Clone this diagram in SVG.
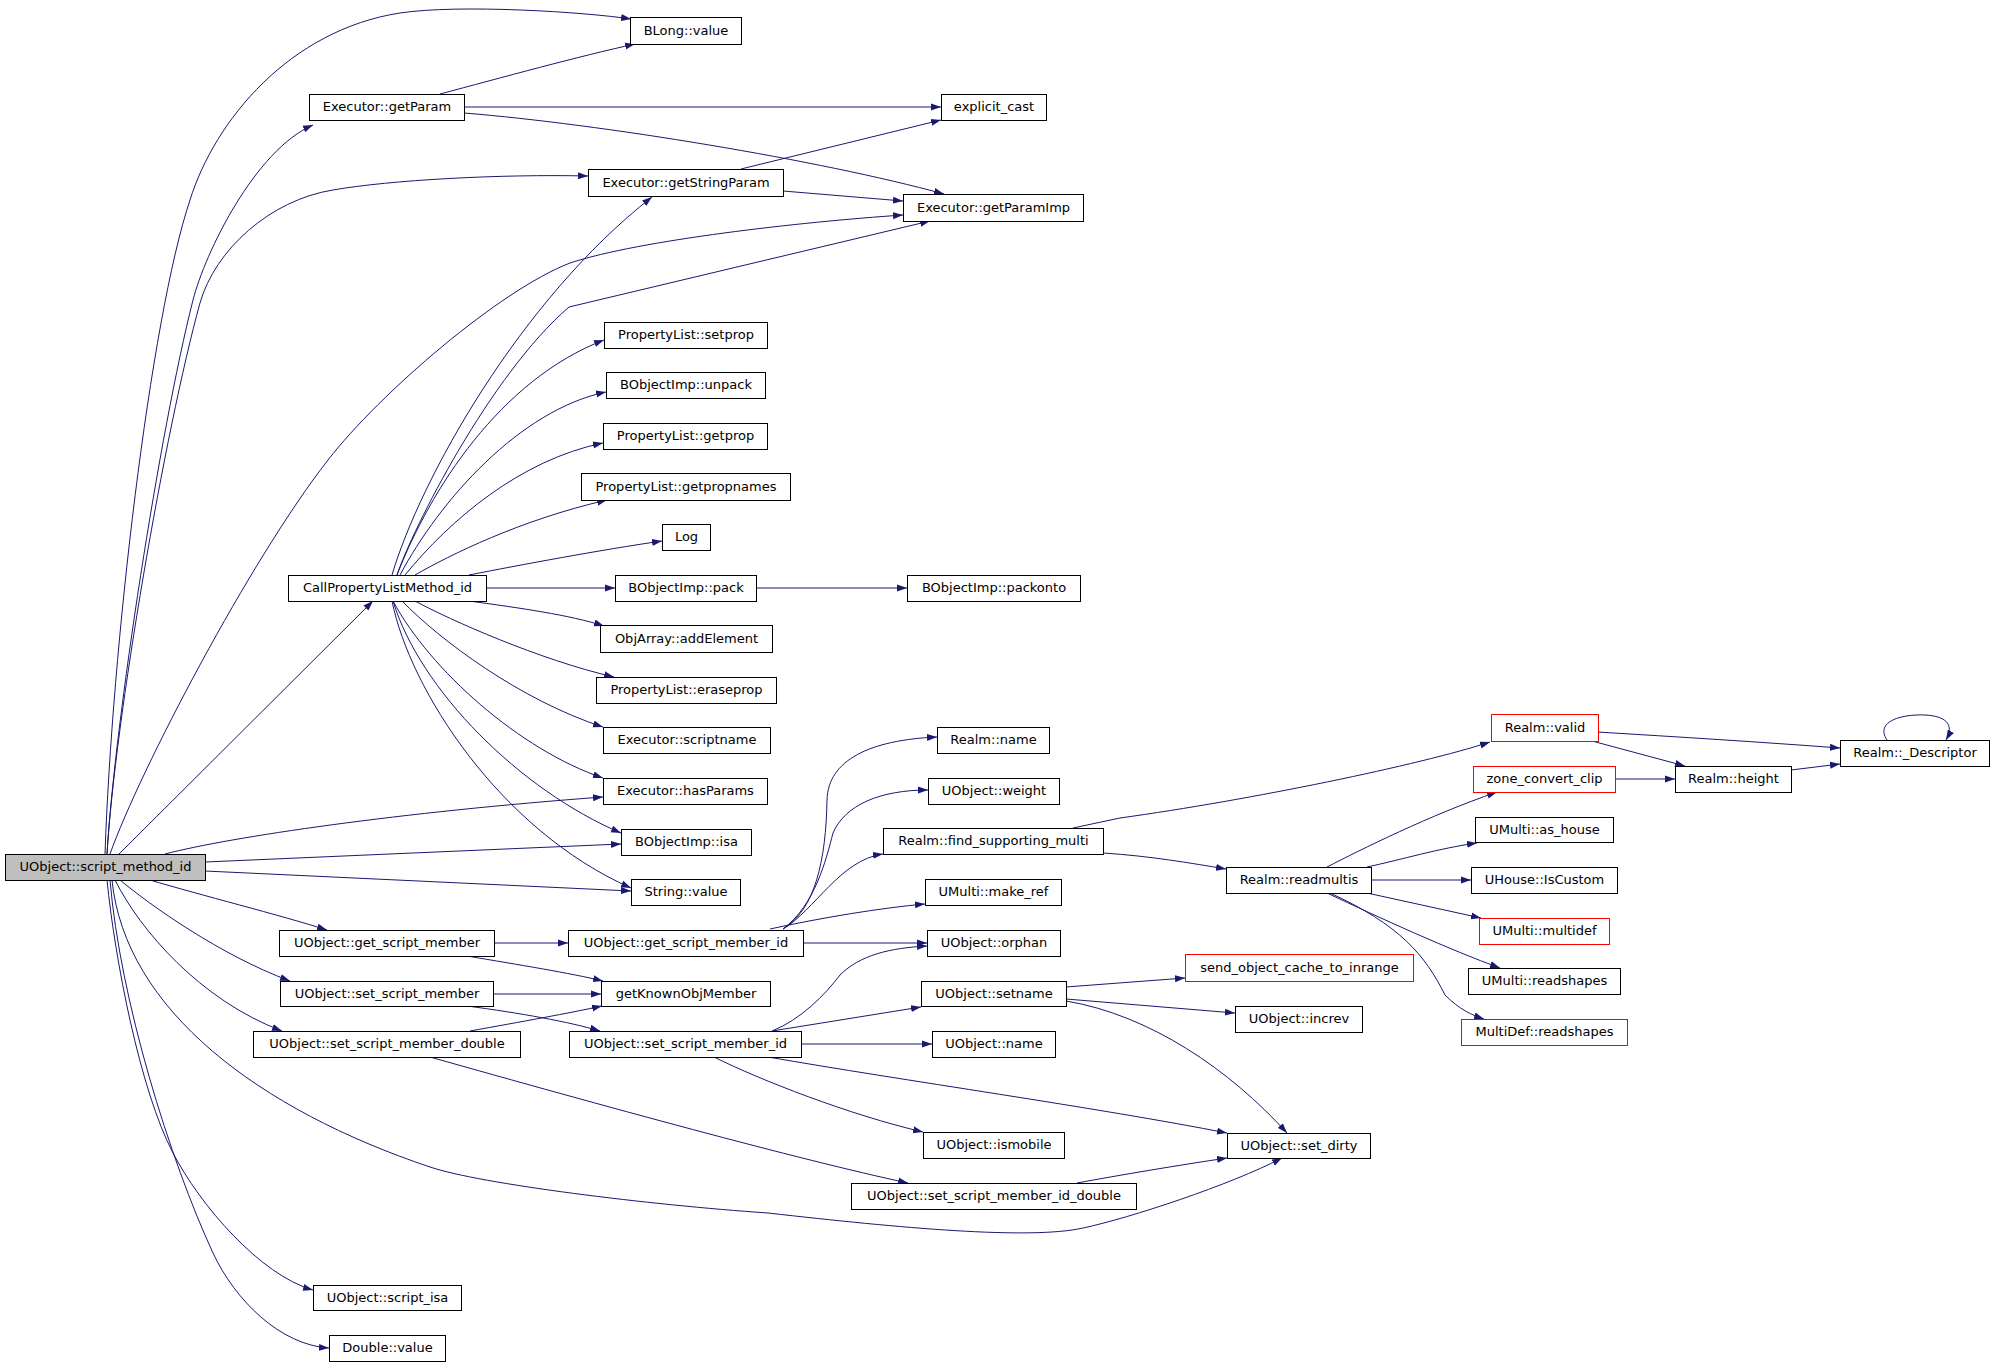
<svg xmlns="http://www.w3.org/2000/svg" width="1995" height="1366" viewBox="0 0 1995 1366">
<style>
.node rect{fill:#fff;stroke:#000;stroke-width:1}
.node.red rect{stroke:#ff0000}
.node.root rect{fill:#bfbfbf}
.node text{font-family:"DejaVu Sans","Liberation Sans",sans-serif;font-size:13px;text-anchor:middle;fill:#000}
.edges path{fill:none;stroke:#191970;stroke-width:1;marker-end:url(#arr)}
</style>
<defs>
<marker id="arr" markerWidth="10" markerHeight="8" refX="10" refY="4" orient="auto" markerUnits="userSpaceOnUse">
<path d="M0,0.5 L10,4 L0,7.5 z" fill="#191970"/>
</marker>
</defs>
<rect width="1995" height="1366" fill="#fff"/>
<g class="edges">
<path id="e_sm_blong" d="M105,854 C112,650 150,320 190,200 C215,120 290,30 400,13 C460,4 585,12 631,19"/>
<path id="e_sm_getparam" d="M107,854 C115,720 160,430 193,300 C205,253 255,150 313,125"/>
<path id="e_sm_getstringparam" d="M107,854 C115,720 165,430 200,303 C215,250 270,200 333,190 C390,180 500,174 588,176"/>
<path id="e_sm_getparamimp" d="M110,854 C140,770 250,560 328,460 C380,393 500,290 570,263 C640,240 800,222 903,215"/>
<path id="e_sm_cpl" d="M119,854 L373,601"/>
<path id="e_sm_hasparams" d="M165,854 C230,837 400,812 603,797"/>
<path id="e_sm_isa" d="M205,862 L621,844"/>
<path id="e_sm_stringvalue" d="M205,871 L631,891"/>
<path id="e_sm_gsm" d="M150,880 C200,895 280,915 327,930"/>
<path id="e_sm_ssm" d="M120,880 C150,905 220,955 290,981"/>
<path id="e_sm_ssmd" d="M115,880 C140,930 200,1000 282,1031"/>
<path id="e_sm_setdirty" d="M112,880 C125,1010 260,1110 430,1167 C480,1184 650,1205 768,1213 C900,1228 1030,1240 1083,1228 C1130,1218 1230,1185 1282,1158"/>
<path id="e_sm_scriptisa" d="M107,880 C115,960 140,1090 173,1153 C200,1205 260,1275 313,1290"/>
<path id="e_sm_double" d="M110,880 C120,1000 170,1160 213,1253 C235,1300 280,1345 329,1348"/>
<path id="e_cpl_getstringparam" d="M392,575 C420,480 520,300 652,197"/>
<path id="e_cpl_getparamimp" d="M397,575 C412,530 490,375 569,307 L930,221"/>
<path id="e_cpl_setprop" d="M397,575 C430,490 500,380 604,340"/>
<path id="e_cpl_unpack" d="M400,575 C440,500 520,410 606,392"/>
<path id="e_cpl_getprop" d="M405,575 C450,520 520,460 603,443"/>
<path id="e_cpl_getpropnames" d="M415,575 C450,555 520,520 607,500"/>
<path id="e_cpl_log" d="M469,575 C520,565 600,550 662,541"/>
<path id="e_cpl_pack" d="M486,588 L615,588"/>
<path id="e_cpl_addelement" d="M469,601 C520,608 570,615 604,626"/>
<path id="e_cpl_eraseprop" d="M415,601 C450,620 540,660 614,677"/>
<path id="e_cpl_scriptname" d="M402,601 C440,640 520,700 603,727"/>
<path id="e_cpl_hasparams" d="M393,601 C430,670 520,750 603,778"/>
<path id="e_cpl_isa" d="M393,601 C420,690 520,790 621,833"/>
<path id="e_cpl_stringvalue" d="M392,601 C410,690 500,830 631,888"/>
<path id="e_getparam_blong" d="M440,94 C500,78 580,56 635,44"/>
<path id="e_getparam_explicit" d="M464,107 L941,107"/>
<path id="e_getparam_getparamimp" d="M464,113 C600,124 820,160 944,194"/>
<path id="e_getstringparam_explicit" d="M741,169 L941,120"/>
<path id="e_getstringparam_getparamimp" d="M783,191 L903,201"/>
<path id="e_pack_packonto" d="M756,588 L907,588"/>
<path id="e_gsm_gsmid" d="M494,943 L568,943"/>
<path id="e_gsm_known" d="M467,956 C520,965 570,973 603,981"/>
<path id="e_ssm_known" d="M493,994 L601,994"/>
<path id="e_ssm_ssmid" d="M467,1006 C520,1013 570,1022 600,1031"/>
<path id="e_ssmd_known" d="M470,1031 C520,1022 570,1013 602,1006"/>
<path id="e_ssmd_ssmidd" d="M430,1057 C600,1105 800,1160 908,1183"/>
<path id="e_gsmid_realmname" d="M783,929 C815,910 826,860 827,800 C828,760 870,740 937,737"/>
<path id="e_gsmid_weight" d="M783,929 C815,905 826,860 833,833 C845,805 880,790 928,790"/>
<path id="e_gsmid_fsm" d="M783,929 C815,910 840,860 883,854"/>
<path id="e_gsmid_makeref" d="M770,929 C820,918 880,908 925,904"/>
<path id="e_gsmid_orphan" d="M803,943 L927,943"/>
<path id="e_fsm_valid" d="M1073,828 L1120,818 C1250,800 1420,765 1490,742"/>
<path id="e_fsm_readmultis" d="M1103,853 C1150,856 1190,863 1226,869"/>
<path id="e_rm_zone" d="M1327,867 C1360,850 1430,815 1497,792"/>
<path id="e_rm_ashouse" d="M1367,867 C1400,860 1440,848 1477,843"/>
<path id="e_rm_iscustom" d="M1371,880 L1471,880"/>
<path id="e_rm_multidef" d="M1367,893 L1481,918"/>
<path id="e_rm_ureadshapes" d="M1327,893 C1380,918 1450,950 1500,968"/>
<path id="e_rm_mdreadshapes" d="M1330,893 C1400,925 1425,955 1445,995 C1460,1010 1472,1015 1484,1019"/>
<path id="e_valid_desc" d="M1597,732 C1680,737 1760,742 1840,748"/>
<path id="e_valid_height" d="M1592,741 L1685,766"/>
<path id="e_zone_height" d="M1615,779 L1675,779"/>
<path id="e_height_desc" d="M1791,770 L1840,764"/>
<path id="e_desc_desc" d="M1887,740 C1875,722 1900,714 1925,715 C1945,716 1955,724 1946,740"/>
<path id="e_ssmid_orphan" d="M772,1031 C800,1020 825,995 840,975 C860,955 890,948 927,946"/>
<path id="e_ssmid_setname" d="M772,1031 L921,1007"/>
<path id="e_ssmid_name" d="M802,1044 L932,1044"/>
<path id="e_ssmid_ismobile" d="M714,1057 C760,1080 850,1115 923,1132"/>
<path id="e_ssmid_setdirty" d="M768,1057 C900,1080 1100,1108 1227,1133"/>
<path id="e_setname_send" d="M1066,987 L1185,978"/>
<path id="e_setname_increv" d="M1066,999 L1235,1013"/>
<path id="e_setname_setdirty" d="M1066,1001 C1150,1015 1230,1070 1287,1133"/>
<path id="e_ssmidd_setdirty" d="M1077,1183 C1120,1175 1180,1165 1227,1158"/>
</g>
<g id="n_sm" class="node root"><rect x="5.5" y="854.5" width="200" height="26"/><text x="105.5" y="871">UObject::script_method_id</text></g>
<g id="n_blong" class="node"><rect x="630.5" y="17.5" width="111" height="27"/><text x="686" y="35">BLong::value</text></g>
<g id="n_getparam" class="node"><rect x="309.5" y="94.5" width="155" height="26"/><text x="387" y="111">Executor::getParam</text></g>
<g id="n_explicit" class="node"><rect x="941.5" y="94.5" width="105" height="26"/><text x="994" y="111">explicit_cast</text></g>
<g id="n_getstringparam" class="node"><rect x="588.5" y="169.5" width="195" height="27"/><text x="686" y="187">Executor::getStringParam</text></g>
<g id="n_getparamimp" class="node"><rect x="903.5" y="194.5" width="180" height="27"/><text x="993.5" y="212">Executor::getParamImp</text></g>
<g id="n_setprop" class="node"><rect x="604.5" y="322.5" width="163" height="26"/><text x="686" y="339">PropertyList::setprop</text></g>
<g id="n_unpack" class="node"><rect x="606.5" y="372.5" width="159" height="26"/><text x="686" y="389">BObjectImp::unpack</text></g>
<g id="n_getprop" class="node"><rect x="603.5" y="423.5" width="164" height="26"/><text x="685.5" y="440">PropertyList::getprop</text></g>
<g id="n_getpropnames" class="node"><rect x="581.5" y="473.5" width="209" height="27"/><text x="686" y="491">PropertyList::getpropnames</text></g>
<g id="n_log" class="node"><rect x="662.5" y="524.5" width="48" height="26"/><text x="686.5" y="541">Log</text></g>
<g id="n_cpl" class="node"><rect x="288.5" y="575.5" width="198" height="26"/><text x="387.5" y="592">CallPropertyListMethod_id</text></g>
<g id="n_pack" class="node"><rect x="615.5" y="575.5" width="141" height="26"/><text x="686" y="592">BObjectImp::pack</text></g>
<g id="n_packonto" class="node"><rect x="907.5" y="575.5" width="173" height="26"/><text x="994" y="592">BObjectImp::packonto</text></g>
<g id="n_addelement" class="node"><rect x="600.5" y="625.5" width="172" height="27"/><text x="686.5" y="643">ObjArray::addElement</text></g>
<g id="n_eraseprop" class="node"><rect x="596.5" y="677.5" width="180" height="26"/><text x="686.5" y="694">PropertyList::eraseprop</text></g>
<g id="n_scriptname" class="node"><rect x="603.5" y="727.5" width="167" height="26"/><text x="687" y="744">Executor::scriptname</text></g>
<g id="n_hasparams" class="node"><rect x="603.5" y="778.5" width="164" height="26"/><text x="685.5" y="795">Executor::hasParams</text></g>
<g id="n_isa" class="node"><rect x="621.5" y="829.5" width="130" height="26"/><text x="686.5" y="846">BObjectImp::isa</text></g>
<g id="n_stringvalue" class="node"><rect x="631.5" y="879.5" width="109" height="26"/><text x="686" y="896">String::value</text></g>
<g id="n_gsm" class="node"><rect x="279.5" y="930.5" width="215" height="26"/><text x="387" y="947">UObject::get_script_member</text></g>
<g id="n_ssm" class="node"><rect x="280.5" y="981.5" width="213" height="25"/><text x="387" y="998">UObject::set_script_member</text></g>
<g id="n_ssmd" class="node"><rect x="253.5" y="1031.5" width="267" height="26"/><text x="387" y="1048">UObject::set_script_member_double</text></g>
<g id="n_scriptisa" class="node"><rect x="313.5" y="1285.5" width="148" height="25"/><text x="387.5" y="1302">UObject::script_isa</text></g>
<g id="n_double" class="node"><rect x="329.5" y="1335.5" width="116" height="26"/><text x="387.5" y="1352">Double::value</text></g>
<g id="n_gsmid" class="node"><rect x="568.5" y="930.5" width="235" height="26"/><text x="686" y="947">UObject::get_script_member_id</text></g>
<g id="n_known" class="node"><rect x="601.5" y="981.5" width="169" height="25"/><text x="686" y="998">getKnownObjMember</text></g>
<g id="n_ssmid" class="node"><rect x="569.5" y="1031.5" width="232" height="26"/><text x="685.5" y="1048">UObject::set_script_member_id</text></g>
<g id="n_realmname" class="node"><rect x="937.5" y="727.5" width="112" height="26"/><text x="993.5" y="744">Realm::name</text></g>
<g id="n_weight" class="node"><rect x="928.5" y="778.5" width="131" height="26"/><text x="994" y="795">UObject::weight</text></g>
<g id="n_fsm" class="node"><rect x="883.5" y="828.5" width="220" height="26"/><text x="993.5" y="845">Realm::find_supporting_multi</text></g>
<g id="n_makeref" class="node"><rect x="925.5" y="879.5" width="136" height="26"/><text x="993.5" y="896">UMulti::make_ref</text></g>
<g id="n_orphan" class="node"><rect x="927.5" y="930.5" width="133" height="26"/><text x="994" y="947">UObject::orphan</text></g>
<g id="n_setname" class="node"><rect x="921.5" y="981.5" width="145" height="25"/><text x="994" y="998">UObject::setname</text></g>
<g id="n_uname" class="node"><rect x="932.5" y="1031.5" width="123" height="26"/><text x="994" y="1048">UObject::name</text></g>
<g id="n_ismobile" class="node"><rect x="923.5" y="1132.5" width="141" height="26"/><text x="994" y="1149">UObject::ismobile</text></g>
<g id="n_ssmidd" class="node"><rect x="851.5" y="1183.5" width="285" height="26"/><text x="994" y="1200">UObject::set_script_member_id_double</text></g>
<g id="n_setdirty" class="node"><rect x="1227.5" y="1133.5" width="143" height="25"/><text x="1299" y="1150">UObject::set_dirty</text></g>
<g id="n_send" class="node red"><rect x="1185.5" y="954.5" width="228" height="27"/><text x="1299.5" y="972">send_object_cache_to_inrange</text></g>
<g id="n_increv" class="node"><rect x="1235.5" y="1006.5" width="127" height="26"/><text x="1299" y="1023">UObject::increv</text></g>
<g id="n_readmultis" class="node"><rect x="1226.5" y="867.5" width="145" height="26"/><text x="1299" y="884">Realm::readmultis</text></g>
<g id="n_valid" class="node red"><rect x="1491.5" y="714.5" width="107" height="27"/><text x="1545" y="732">Realm::valid</text></g>
<g id="n_zone" class="node red"><rect x="1473.5" y="766.5" width="142" height="26"/><text x="1544.5" y="783">zone_convert_clip</text></g>
<g id="n_ashouse" class="node"><rect x="1475.5" y="817.5" width="138" height="25"/><text x="1544.5" y="834">UMulti::as_house</text></g>
<g id="n_iscustom" class="node"><rect x="1471.5" y="867.5" width="146" height="26"/><text x="1544.5" y="884">UHouse::IsCustom</text></g>
<g id="n_multidef" class="node red"><rect x="1479.5" y="918.5" width="130" height="26"/><text x="1544.5" y="935">UMulti::multidef</text></g>
<g id="n_ureadshapes" class="node"><rect x="1468.5" y="968.5" width="152" height="26"/><text x="1544.5" y="985">UMulti::readshapes</text></g>
<g id="n_mdreadshapes" class="node red"><rect x="1461.5" y="1019.5" width="166" height="26"/><text x="1544.5" y="1036">MultiDef::readshapes</text></g>
<g id="n_height" class="node"><rect x="1675.5" y="766.5" width="116" height="26"/><text x="1733.5" y="783">Realm::height</text></g>
<g id="n_desc" class="node"><rect x="1840.5" y="740.5" width="149" height="26"/><text x="1915" y="757">Realm::_Descriptor</text></g>
</svg>
